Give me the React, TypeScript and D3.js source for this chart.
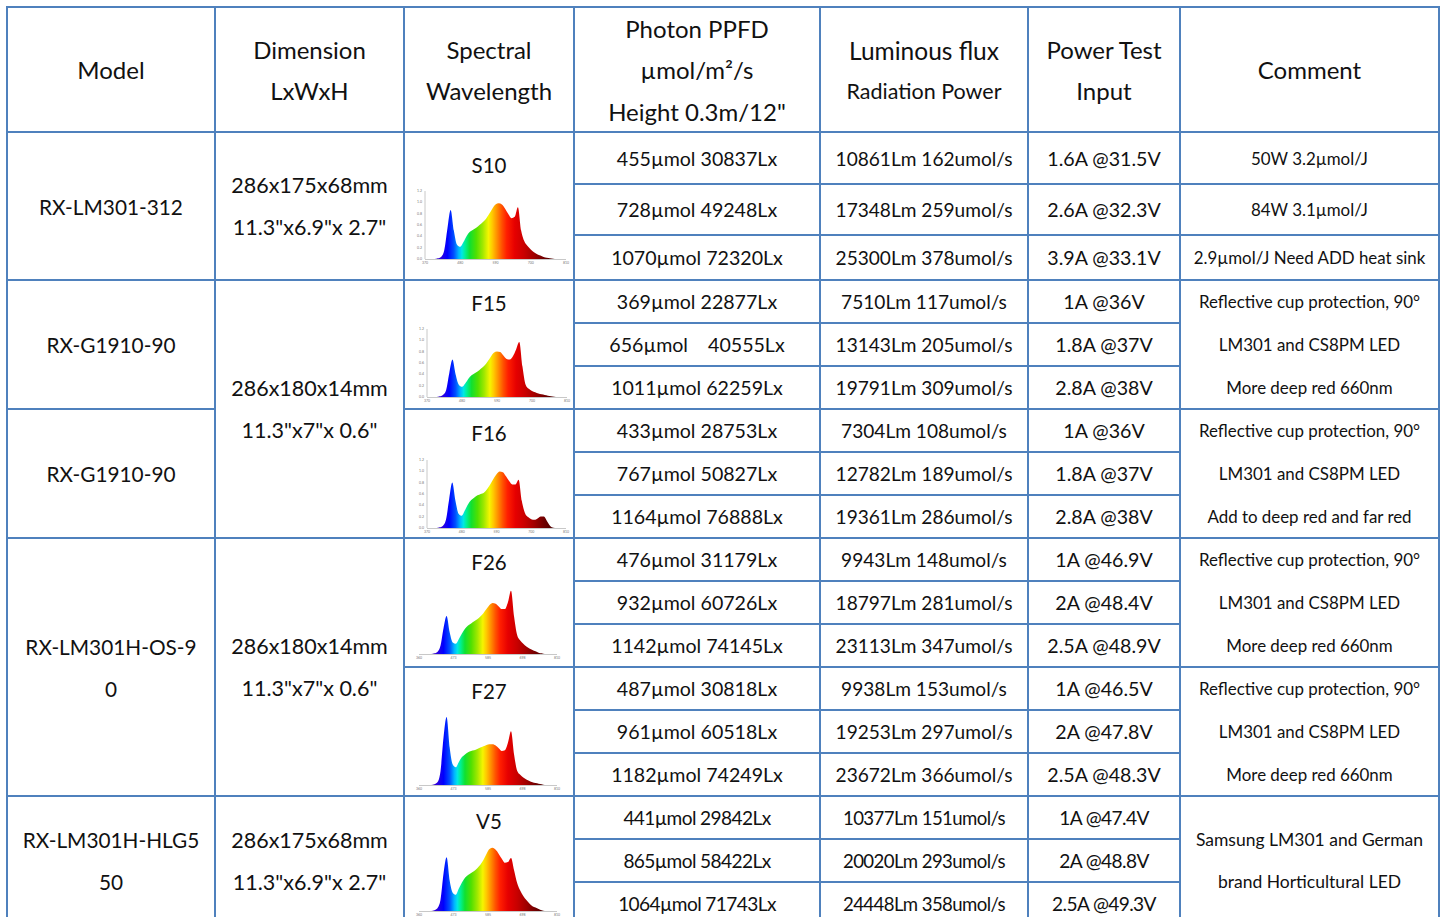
import React from 'react';
import * as d3 from 'd3';

// wavelength grid (nm) shared by every spectrum
const wavelengths = [380, 390, 400, 410, 420, 430, 440, 450, 460, 470, 480, 490, 500, 510, 520, 530, 540, 550, 560, 570, 580, 590, 600, 610, 620, 630, 640, 650, 660, 670, 680, 690, 700, 710, 720, 730, 740, 750, 760, 770, 780];

// relative intensity
const s10 = [0, 0, 0, 0.01, 0.03, 0.13, 0.45, 0.72, 0.42, 0.21, 0.18, 0.25, 0.34, 0.40, 0.43, 0.46, 0.50, 0.54, 0.59, 0.66, 0.74, 0.80, 0.82, 0.80, 0.74, 0.66, 0.60, 0.62, 0.76, 0.42, 0.26, 0.19, 0.14, 0.10, 0.07, 0.05, 0.03, 0.02, 0.01, 0.005, 0];
const f15 = [0, 0, 0, 0.01, 0.03, 0.10, 0.35, 0.55, 0.33, 0.18, 0.15, 0.20, 0.27, 0.32, 0.35, 0.38, 0.42, 0.46, 0.52, 0.59, 0.65, 0.67, 0.66, 0.61, 0.56, 0.55, 0.60, 0.70, 0.81, 0.45, 0.18, 0.12, 0.09, 0.07, 0.05, 0.04, 0.03, 0.02, 0.01, 0.005, 0];
const f16 = [0, 0, 0, 0.01, 0.03, 0.12, 0.42, 0.67, 0.40, 0.21, 0.18, 0.26, 0.35, 0.41, 0.45, 0.48, 0.50, 0.52, 0.57, 0.64, 0.72, 0.79, 0.83, 0.82, 0.76, 0.69, 0.64, 0.64, 0.71, 0.40, 0.22, 0.16, 0.13, 0.12, 0.14, 0.17, 0.17, 0.10, 0.03, 0.005, 0];
const f26 = [0, 0, 0, 0.01, 0.03, 0.12, 0.38, 0.56, 0.32, 0.17, 0.15, 0.22, 0.30, 0.37, 0.42, 0.45, 0.48, 0.51, 0.55, 0.60, 0.66, 0.72, 0.75, 0.74, 0.70, 0.66, 0.66, 0.76, 0.93, 0.55, 0.28, 0.20, 0.15, 0.11, 0.08, 0.06, 0.04, 0.02, 0.01, 0, 0];
const f27 = [0, 0, 0, 0.01, 0.04, 0.20, 0.70, 1.0, 0.55, 0.30, 0.26, 0.34, 0.41, 0.45, 0.48, 0.50, 0.51, 0.53, 0.55, 0.57, 0.59, 0.60, 0.60, 0.58, 0.54, 0.50, 0.51, 0.62, 0.79, 0.45, 0.21, 0.15, 0.11, 0.08, 0.06, 0.04, 0.03, 0.02, 0.01, 0, 0];
const v5 = [0, 0, 0, 0.01, 0.04, 0.16, 0.55, 0.79, 0.45, 0.27, 0.24, 0.33, 0.42, 0.49, 0.53, 0.56, 0.59, 0.63, 0.68, 0.75, 0.84, 0.91, 0.93, 0.90, 0.84, 0.77, 0.71, 0.72, 0.78, 0.60, 0.41, 0.30, 0.22, 0.16, 0.11, 0.07, 0.05, 0.03, 0.01, 0, 0];

const spectrumNames = ['S10', 'F15', 'F16', 'F26', 'F27', 'V5'];
const spectrumValues = [s10, f15, f16, f26, f27, v5];
const yTickLabels = ['0.0', '0.2', '0.4', '0.6', '0.8', '1.0', '1.2'];

const headers = [
  ['Model'],
  ['Dimension', 'LxWxH'],
  ['Spectral', 'Wavelength'],
  ['Photon PPFD', 'µmol/m²/s', 'Height 0.3m/12"'],
  ['Luminous flux', 'Radiation Power'],
  ['Power Test', 'Input'],
  ['Comment'],
];

const ppfd = ['455µmol 30837Lx', '728µmol 49248Lx', '1070µmol 72320Lx', '369µmol 22877Lx', '656µmol    40555Lx', '1011µmol 62259Lx', '433µmol 28753Lx', '767µmol 50827Lx', '1164µmol 76888Lx', '476µmol 31179Lx', '932µmol 60726Lx', '1142µmol 74145Lx', '487µmol 30818Lx', '961µmol 60518Lx', '1182µmol 74249Lx', '441µmol 29842Lx', '865µmol 58422Lx', '1064µmol 71743Lx'];
const flux = ['10861Lm 162umol/s', '17348Lm 259umol/s', '25300Lm 378umol/s', '7510Lm 117umol/s', '13143Lm 205umol/s', '19791Lm 309umol/s', '7304Lm 108umol/s', '12782Lm 189umol/s', '19361Lm 286umol/s', '9943Lm 148umol/s', '18797Lm 281umol/s', '23113Lm 347umol/s', '9938Lm 153umol/s', '19253Lm 297umol/s', '23672Lm 366umol/s', '10377Lm 151umol/s', '20020Lm 293umol/s', '24448Lm 358umol/s'];
const power = ['1.6A @31.5V', '2.6A @32.3V', '3.9A @33.1V', '1A @36V', '1.8A @37V', '2.8A @38V', '1A @36V', '1.8A @37V', '2.8A @38V', '1A @46.9V', '2A @48.4V', '2.5A @48.9V', '1A @46.5V', '2A @47.8V', '2.5A @48.3V', '1A @47.4V', '2A @48.8V', '2.5A @49.3V'];

const models = [['RX-LM301-312'], ['RX-G1910-90'], ['RX-G1910-90'], ['RX-LM301H-OS-9', '0'], ['RX-LM301H-HLG5', '50']];
const modelSpans = [[0, 3], [3, 6], [6, 9], [9, 15], [15, 18]];
const dimensions = [['286x175x68mm', '11.3"x6.9"x 2.7"'], ['286x180x14mm', '11.3"x7"x 0.6"'], ['286x180x14mm', '11.3"x7"x 0.6"'], ['286x175x68mm', '11.3"x6.9"x 2.7"']];
const dimensionSpans = [[0, 3], [3, 9], [9, 15], [15, 18]];
const spectrumSpans = [[0, 3], [3, 6], [6, 9], [9, 12], [12, 15], [15, 18]];
const comments = [
  ['50W 3.2µmol/J'],
  ['84W 3.1µmol/J'],
  ['2.9µmol/J Need ADD heat sink'],
  ['Reflective cup protection, 90°', 'LM301 and CS8PM LED', 'More deep red 660nm'],
  ['Reflective cup protection, 90°', 'LM301 and CS8PM LED', 'Add to deep red and far red'],
  ['Reflective cup protection, 90°', 'LM301 and CS8PM LED', 'More deep red 660nm'],
  ['Reflective cup protection, 90°', 'LM301 and CS8PM LED', 'More deep red 660nm'],
  ['Samsung LM301 and German', 'brand Horticultural LED'],
];
const commentSpans = [[0, 1], [1, 2], [2, 3], [3, 6], [6, 9], [9, 12], [12, 15], [15, 18]];

// layout
const colEdges = [7, 215, 404, 574, 820, 1028, 1180, 1439];
const headTop = 7;
const rowEdges = [132, 184, 235, 280, 323, 366, 409, 452, 495, 538, 581, 624, 667, 710, 753, 796, 839, 882, 925];
const border = '#4f81bd';
const font = 'Lato, "Open Sans", sans-serif';
const ink = '#111';
const lineGap = 42;
const narrowFrom = 15; // the last block is set in a narrower face

const spectrumLayout = [
  { labelY: 165, x0: 425, x1: 566, base: 259, domain: [370, 810], yAxis: true },
  { labelY: 303, x0: 427, x1: 567, base: 397, domain: [370, 810], yAxis: true },
  { labelY: 433, x0: 427, x1: 566, base: 528, domain: [370, 810], yAxis: true },
  { labelY: 562, x0: 419, x1: 557, base: 654, domain: [360, 810], yAxis: false },
  { labelY: 691, x0: 419, x1: 557, base: 785, domain: [360, 810], yAxis: false },
  { labelY: 821, x0: 419, x1: 557, base: 911, domain: [360, 810], yAxis: false },
];

const colorStops: [number, string][] = [
  [380, '#3c0096'], [420, '#2a00e0'], [440, '#0000ff'], [460, '#0050ff'], [475, '#00b4ff'],
  [485, '#00e6e6'], [495, '#00f096'], [510, '#10e030'], [530, '#50e000'], [550, '#a0e800'],
  [568, '#f5f500'], [580, '#ffc800'], [595, '#ff8c00'], [610, '#ff5000'], [625, '#ff1e00'],
  [650, '#e60000'], [680, '#c80000'], [710, '#a00000'], [740, '#700000'], [770, '#4a0000'],
];

const cx = (c: number) => (colEdges[c] + colEdges[c + 1]) / 2;
const rowMid = (r: number) => (rowEdges[r] + rowEdges[r + 1]) / 2;

function Lines({ x, lines, top, bottom, size, gap = lineGap }: any) {
  const mid = (top + bottom) / 2;
  const start = mid - ((lines.length - 1) * gap) / 2;
  return (
    <>
      {lines.map((t: string, i: number) => (
        <text key={i} x={x} y={start + i * gap} textAnchor="middle" dominantBaseline="central"
          fontSize={size} fill={ink} style={{ whiteSpace: 'pre' }}>{t}</text>
      ))}
    </>
  );
}

function Spectrum({ idx }: { idx: number }) {
  const L = spectrumLayout[idx];
  const values = spectrumValues[idx];
  const h = 68;
  const x = d3.scaleLinear().domain(L.domain).range([L.x0, L.x1]);
  const y = d3.scaleLinear().domain([0, 1]).range([L.base, L.base - h]);
  const area = d3.area<number>()
    .x((_, i) => x(wavelengths[i]))
    .y0(L.base)
    .y1(d => y(d))
    .curve(d3.curveMonotoneX);
  const gid = `spec-${idx}`;
  const d0 = L.domain[0], d1 = L.domain[1];
  const xTicks = d3.range(5).map(i => d0 + ((d1 - d0) * i) / 4);
  return (
    <g>
      <defs>
        <linearGradient id={gid} gradientUnits="userSpaceOnUse" x1={x(d0)} x2={x(d1)} y1={0} y2={0}>
          {colorStops.map(([nm, c]) => (
            <stop key={nm} offset={(nm - d0) / (d1 - d0)} stopColor={c} />
          ))}
        </linearGradient>
      </defs>
      <text x={cx(2)} y={L.labelY} textAnchor="middle" dominantBaseline="central" fontSize={20.5} fill={ink}>
        {spectrumNames[idx]}
      </text>
      <line x1={L.x0} x2={L.x1} y1={L.base + 0.5} y2={L.base + 0.5} stroke="#c8c8c8" strokeWidth={1} />
      {L.yAxis && (
        <>
          <line x1={L.x0} x2={L.x0} y1={L.base} y2={L.base - h} stroke="#c8c8c8" strokeWidth={1} />
          {yTickLabels.map((t, i) => (
            <text key={t} x={L.x0 - 3} y={L.base - (h * i) / (yTickLabels.length - 1)} textAnchor="end"
              dominantBaseline="central" fontSize={3.5} fill="#777">{t}</text>
          ))}
        </>
      )}
      {xTicks.map(t => (
        <text key={t} x={x(t)} y={L.base + 4} textAnchor="middle" dominantBaseline="central" fontSize={3.5} fill="#777">
          {Math.round(t)}
        </text>
      ))}
      <path d={area(values) || ''} fill={`url(#${gid})`} />
    </g>
  );
}

function Cell({ c, r, t, size }: { c: number; r: number; t: string; size: number }) {
  const narrow = r >= narrowFrom;
  return (
    <text x={cx(c)} y={rowMid(r)} textAnchor="middle" dominantBaseline="central"
      fontSize={narrow ? size - 0.5 : size} fill={ink} style={{ whiteSpace: 'pre' }}
      letterSpacing={narrow ? -0.6 : 0}>{t}</text>
  );
}

export default function App() {
  const cellRect = (c0: number, c1: number, top: number, bottom: number, key: string) => (
    <rect key={key} x={colEdges[c0]} y={top} width={colEdges[c1] - colEdges[c0]} height={bottom - top}
      fill="none" stroke={border} strokeWidth={2} />
  );

  return (
    <svg width={1444} height={917} style={{ position: 'absolute', left: 0, top: 0, background: '#fff' }}
      fontFamily={font}>
      <rect width={1444} height={917} fill="#fff" />

      {/* header */}
      {headers.map((lines, c) => (
        <g key={c}>
          {c === 4 ? (
            <>
              <text x={cx(c)} y={50} textAnchor="middle" dominantBaseline="central" fontSize={24.5} fill={ink}>{lines[0]}</text>
              <text x={cx(c)} y={91} textAnchor="middle" dominantBaseline="central" fontSize={21.5} fill={ink}>{lines[1]}</text>
            </>
          ) : (
            <Lines x={cx(c)} lines={lines} top={headTop} bottom={rowEdges[0]} size={24} gap={c === 3 ? 41.5 : 41} />
          )}
        </g>
      ))}

      {/* models and dimensions */}
      {models.map((lines, i) => (
        <Lines key={i} x={cx(0)} lines={lines} top={rowEdges[modelSpans[i][0]]} bottom={rowEdges[modelSpans[i][1]]} size={20.8} />
      ))}
      {dimensions.map((lines, i) => (
        <Lines key={i} x={cx(1)} lines={lines} top={rowEdges[dimensionSpans[i][0]]} bottom={rowEdges[dimensionSpans[i][1]]} size={21.5} />
      ))}

      {spectrumNames.map((_, i) => <Spectrum key={i} idx={i} />)}

      {ppfd.map((t, r) => <Cell key={'p' + r} c={3} r={r} t={t} size={19.6} />)}
      {flux.map((t, r) => <Cell key={'f' + r} c={4} r={r} t={t} size={19.1} />)}
      {power.map((t, r) => <Cell key={'w' + r} c={5} r={r} t={t} size={19.6} />)}
      {comments.map((lines, i) => {
        const [a, b] = commentSpans[i];
        if (lines.length === b - a) {
          return lines.map((t, k) => (
            <text key={`c${i}-${k}`} x={cx(6)} y={rowMid(a + k)} textAnchor="middle" dominantBaseline="central"
              fontSize={16.9} fill={ink}>{t}</text>
          ));
        }
        return <Lines key={'c' + i} x={cx(6)} lines={lines} top={rowEdges[a]} bottom={rowEdges[b]} size={17.5} />;
      })}

      {/* borders */}
      {colEdges.slice(0, -1).map((_, c) => cellRect(c, c + 1, headTop, rowEdges[0], 'h' + c))}
      {modelSpans.map(([a, b], i) => cellRect(0, 1, rowEdges[a], rowEdges[b], 'm' + i))}
      {dimensionSpans.map(([a, b], i) => cellRect(1, 2, rowEdges[a], rowEdges[b], 'd' + i))}
      {spectrumSpans.map(([a, b], i) => cellRect(2, 3, rowEdges[a], rowEdges[b], 's' + i))}
      {ppfd.map((_, r) => cellRect(3, 4, rowEdges[r], rowEdges[r + 1], 'pr' + r))}
      {flux.map((_, r) => cellRect(4, 5, rowEdges[r], rowEdges[r + 1], 'fr' + r))}
      {power.map((_, r) => cellRect(5, 6, rowEdges[r], rowEdges[r + 1], 'wr' + r))}
      {commentSpans.map(([a, b], i) => cellRect(6, 7, rowEdges[a], rowEdges[b], 'cr' + i))}
    </svg>
  );
}
